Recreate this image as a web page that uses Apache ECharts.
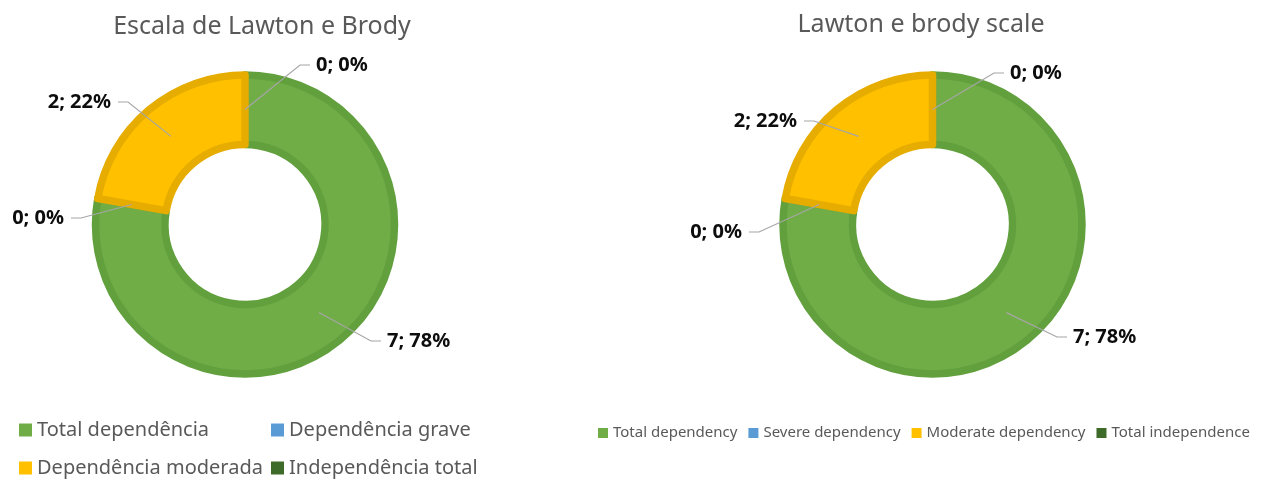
<!DOCTYPE html>
<html>
<head>
<meta charset="utf-8">
<script src="https://cdn.jsdelivr.net/npm/echarts@6/dist/echarts.min.js"></script>
<style>html,body{margin:0;padding:0;background:#fff}#c{width:1266px;height:480px}</style>
</head>
<body>
<div id="c"></div>
<script>
// ---- data ----
var titleLeft = 'Escala de Lawton e Brody';
var titleRight = 'Lawton e brody scale';
var categoriesPt = ['Total dependência', 'Dependência grave', 'Dependência moderada', 'Independência total'];
var categoriesEn = ['Total dependency', 'Severe dependency', 'Moderate dependency', 'Total independence'];
var valuesPt = [7, 0, 2, 0];
var valuesEn = [7, 0, 2, 0];
var percentPt = [78, 0, 22, 0];
var percentEn = [78, 0, 22, 0];

// ---- styles / layout ----
var fillColors = ['#70ad47', '#5b9bd5', '#ffc000', '#3e6b29'];
var borderColors = ['#62a03e', '#4f8ec7', '#e6ad00', '#355c23'];
var fontFam = '"Noto Sans", "Open Sans", sans-serif';
// label anchor: [x, y, side] side 'l' = label to the left of its line end
var labelPosPt = [[387, 341, 'r'], [64, 218, 'l'], [111, 102, 'l'], [316, 65, 'r']];
var labelPosEn = [[1073, 337, 'r'], [742, 232, 'l'], [797, 121, 'l'], [1010, 73, 'r']];

function donut(center, cats, vals) {
  return {
    type: 'pie', center: center, radius: [80, 149.5], startAngle: 90, clockwise: true,
    silent: true, label: {show: false}, labelLine: {show: false}, z: 2,
    data: vals.map(function (v, i) {
      return {name: cats[i], value: v,
        itemStyle: {color: fillColors[i], borderColor: borderColors[i], borderWidth: v === 0 ? 0 : 7.5}};
    })
  };
}
function labelPie(center, cats, vals, pcts, pos) {
  return {
    type: 'pie', center: center, radius: [0, 115], startAngle: 90, clockwise: true,
    silent: true, z: 5, legendHoverLink: false,
    itemStyle: {color: 'rgba(0,0,0,0)', borderWidth: 0},
    label: {show: true, position: 'outside', fontFamily: fontFam, fontWeight: 'bold',
      fontSize: 20, color: '#0d0d0d',
      formatter: function (p) { return vals[p.dataIndex] + '; ' + pcts[p.dataIndex] + '%'; }},
    labelLine: {show: true, length: 20, length2: 10, lineStyle: {color: '#a6a6a6', width: 1.2}},
    labelLayout: function (p) {
      var a = pos[p.dataIndex];
      var start = p.labelLinePoints ? p.labelLinePoints[0] : [a[0], a[1]];
      var endX = a[2] === 'l' ? a[0] + 7 : a[0] - 6;
      var elbowX = a[2] === 'l' ? endX + 10 : endX - 10;
      return {x: a[0], y: a[1], align: a[2] === 'l' ? 'right' : 'left', verticalAlign: 'middle',
        labelLinePoints: [start, [elbowX, a[1]], [endX, a[1]]]};
    },
    data: vals.map(function (v, i) { return {name: cats[i], value: v}; })
  };
}
var chart = echarts.init(document.getElementById('c'), null, {renderer: 'canvas'});
var legendBase = {
  icon: 'rect', padding: 0, selectedMode: false, orient: 'vertical',
  itemStyle: {borderWidth: 0}
};
chart.setOption({
  animation: false,
  color: fillColors,
  title: [
    {text: titleLeft, left: 262, top: 14, textAlign: 'center', padding: 0,
      textStyle: {fontFamily: fontFam, fontWeight: 'normal', fontSize: 25, color: '#595959'}},
    {text: titleRight, left: 921, top: 12, textAlign: 'center', padding: 0,
      textStyle: {fontFamily: fontFam, fontWeight: 'normal', fontSize: 25, color: '#595959'}}
  ],
  legend: [
    Object.assign({}, legendBase, {left: 19, top: 420, itemWidth: 13, itemHeight: 13, itemGap: 18,
      data: [categoriesPt[0], categoriesPt[2]],
      textStyle: {fontFamily: fontFam, fontSize: 20, lineHeight: 20, color: '#595959'}}),
    Object.assign({}, legendBase, {left: 271, top: 420, itemWidth: 13, itemHeight: 13, itemGap: 18,
      data: [categoriesPt[1], categoriesPt[3]],
      textStyle: {fontFamily: fontFam, fontSize: 20, lineHeight: 20, color: '#595959'}}),
    Object.assign({}, legendBase, {orient: 'horizontal', left: 598, top: 425,
      itemWidth: 10, itemHeight: 10, itemGap: 11, data: categoriesEn,
      textStyle: {fontFamily: fontFam, fontSize: 15, lineHeight: 16, color: '#595959'}})
  ],
  series: [
    donut([245, 224.5], categoriesPt, valuesPt),
    labelPie([245, 224.5], categoriesPt, valuesPt, percentPt, labelPosPt),
    donut([932.5, 224.5], categoriesEn, valuesEn),
    labelPie([932.5, 224.5], categoriesEn, valuesEn, percentEn, labelPosEn)
  ]
});
</script>
</body>
</html>
